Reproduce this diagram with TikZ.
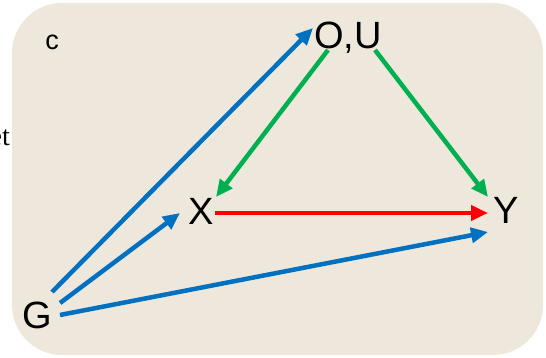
\documentclass[tikz,border=0pt]{standalone}
\usepackage{fontspec}
\setmainfont{Liberation Sans}
\newfontfamily\serifet{Liberation Serif}
\usetikzlibrary{arrows.meta,calc}
\definecolor{bgbeige}{RGB}{238,232,220}
\definecolor{arrblue}{RGB}{0,112,192}
\definecolor{arrgreen}{RGB}{0,176,80}
\definecolor{arrred}{RGB}{255,0,0}
\begin{document}
\begin{tikzpicture}[x=1pt,y=-1pt,
  var/.style={font=\fontsize{38}{38}\selectfont, inner sep=0pt, anchor=base},
  conn/.style={line width=4.5pt, -{Triangle[length=17pt,width=15pt]}},
]
\useasboundingbox (0,0) rectangle (546,358);
\fill[bgbeige, rounded corners=50pt] (12,3) rectangle (543,355);
\node[font=\serifet\fontsize{28}{28}\selectfont, inner sep=0pt, anchor=base east] (et) at (10,146) {et};
\node[font=\fontsize{27}{27}\selectfont, inner sep=0pt, anchor=base] (c) at (52,50) {c};
\node[var] (OU) at (348,49) {O,U};
\node[var] (X) at (201,225) {X};
\node[var] (Y) at (506,223) {Y};
\node[var] (G) at (37,328) {G};
% blue
\draw[conn, arrblue] ($(G.base)+(15,-36)$) -- ($(OU.base)+(-35,-21)$);
\draw[conn, arrblue] ($(G.base)+(23,-25)$) -- ($(X.base)+(-21,-12)$);
\draw[conn, arrblue] ($(G.base)+(23,-13)$) -- ($(Y.base)+(-18,9)$);
% green
\draw[conn, arrgreen] ($(OU.base)+(-20,1)$) -- ($(X.base)+(15,-28)$);
\draw[conn, arrgreen] ($(OU.base)+(27,1)$) -- ($(Y.base)+(-18,-26)$);
% red
\draw[conn, arrred] ($(X.base)+(14,-12)$) -- ($(Y.base)+(-18,-10)$);
\end{tikzpicture}
\end{document}
